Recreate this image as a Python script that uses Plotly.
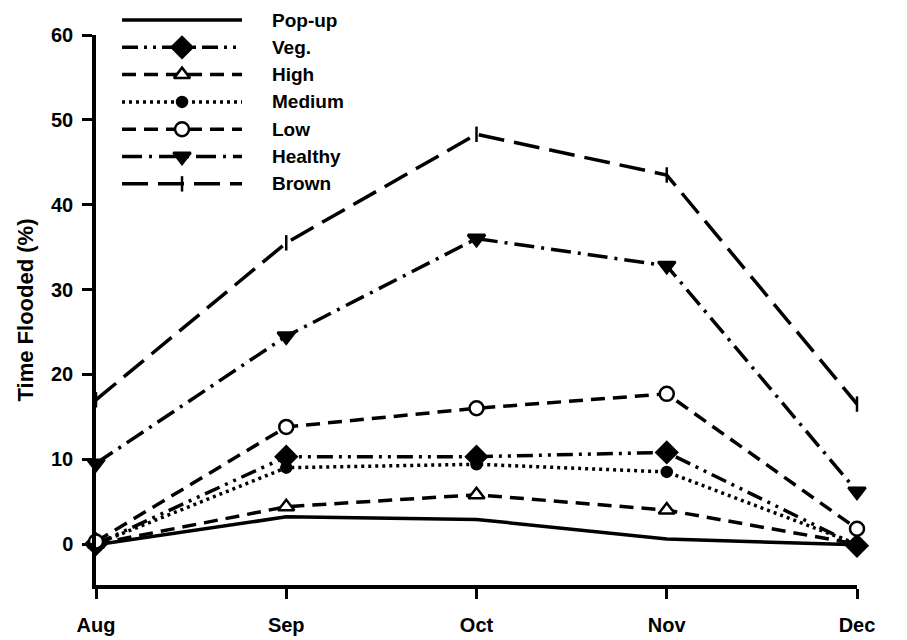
import plotly.graph_objects as go

months = ["Aug", "Sep", "Oct", "Nov", "Dec"]
series_names = ["Pop-up", "Veg.", "High", "Medium", "Low", "Healthy", "Brown"]

popup = [-0.1, 3.2, 2.9, 0.6, -0.1]
veg = [0.0, 10.3, 10.3, 10.8, -0.2]
high = [0.0, 4.4, 5.8, 4.0, 0.0]
medium = [0.0, 9.0, 9.4, 8.5, 0.0]
low = [0.3, 13.8, 16.0, 17.7, 1.8]
healthy = [9.5, 24.5, 36.0, 32.8, 6.2]
brown = [17.0, 35.5, 48.3, 43.5, 16.5]

y_ticks = [0, 10, 20, 30, 40, 50, 60]

series_values = [popup, veg, high, medium, low, healthy, brown]

styles = {
    "Pop-up": dict(dash="solid", symbol=None, size=0, fill="black"),
    "Veg.": dict(dash="16px,6px,3px,6px,3px,6px", symbol="diamond", size=16, fill="black"),
    "High": dict(dash="14px,8px", symbol="triangle-up", size=14, fill="white"),
    "Medium": dict(dash="3px,4px", symbol="circle", size=10, fill="black"),
    "Low": dict(dash="14px,8px", symbol="circle", size=14, fill="white"),
    "Healthy": dict(dash="20px,7px,3px,7px", symbol="triangle-down", size=15, fill="black"),
    "Brown": dict(dash="26px,10px", symbol="line-ns-open", size=11, fill="black"),
}

FONT = "Liberation Sans, Arial, sans-serif"
LW = 3.5

fig = go.Figure()

for name, vals in zip(series_names, series_values):
    st = styles[name]
    marker = dict(color=st["fill"], size=st["size"], opacity=1,
                  line=dict(color="black", width=2.5))
    mode = "lines" if st["symbol"] is None else "lines+markers"
    if st["symbol"] is not None:
        marker["symbol"] = st["symbol"]
    fig.add_trace(go.Scatter(
        x=months, y=vals, name=name, mode=mode,
        line=dict(color="black", width=LW, dash=st["dash"]),
        marker=marker, cliponaxis=False, showlegend=False,
        xaxis="x", yaxis="y",
    ))

# custom legend drawn on a small helper subplot
for i, name in enumerate(series_names):
    st = styles[name]
    row = -i
    fig.add_trace(go.Scatter(
        x=[0, 1], y=[row, row], mode="lines",
        line=dict(color="black", width=LW, dash=st["dash"]),
        showlegend=False, hoverinfo="skip", cliponaxis=False,
        xaxis="x2", yaxis="y2",
    ))
    if st["symbol"] is not None:
        fig.add_trace(go.Scatter(
            x=[0.5], y=[row], mode="markers",
            marker=dict(color=st["fill"], size=st["size"], symbol=st["symbol"], opacity=1,
                        line=dict(color="black", width=2.5)),
            showlegend=False, hoverinfo="skip", cliponaxis=False,
            xaxis="x2", yaxis="y2",
        ))
    fig.add_annotation(
        x=0.2286, xref="paper", y=row, yref="y2", text=name, showarrow=False,
        xanchor="left", yanchor="middle",
        font=dict(family=FONT, size=19, color="black", weight="bold"),
    )

fig.update_layout(
    width=907, height=640,
    margin=dict(l=88, r=58, t=0, b=63),
    paper_bgcolor="white", plot_bgcolor="white",
    showlegend=False,
    font=dict(family=FONT, color="black", weight="bold"),
    xaxis=dict(
        type="category", range=[0, 4], showgrid=False, zeroline=False,
        showline=True, linecolor="black", linewidth=3.5, automargin=False,
        ticks="outside", ticklen=10, tickwidth=3, tickcolor="black",
        tickfont=dict(family=FONT, size=20, color="black", weight="bold"),
        ticklabelstandoff=9,
        anchor="y",
    ),
    yaxis=dict(
        range=[-4.83, 60], domain=[0, 0.9532], showgrid=False, zeroline=False,
        showline=True, linecolor="black", linewidth=3.5, automargin=False,
        tickvals=y_ticks, ticks="outside", ticklen=10, tickwidth=3, tickcolor="black",
        tickfont=dict(family=FONT, size=20, color="black", weight="bold"),
        ticklabelstandoff=5,
        title=dict(text="Time Flooded (%)", standoff=12,
                   font=dict(family=FONT, size=22, color="black", weight="bold")),
        anchor="x",
    ),
    xaxis2=dict(domain=[0.0342, 0.1919], range=[0, 1], visible=False, anchor="y2"),
    yaxis2=dict(domain=[0.6716, 1.0], range=[-6.5, 0.44], visible=False, anchor="x2"),
)

fig.write_html("out.html")
